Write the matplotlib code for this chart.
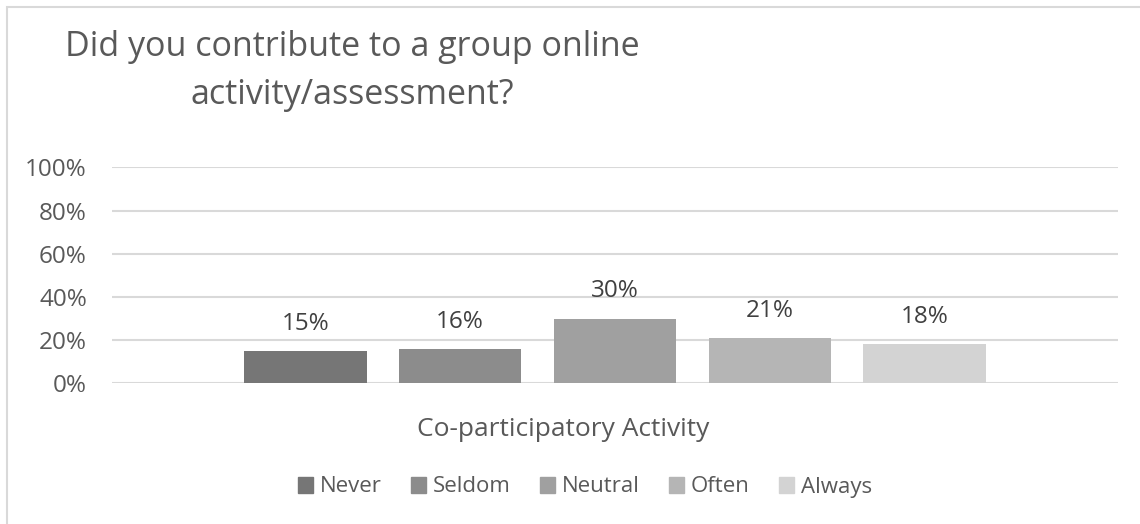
import matplotlib.pyplot as plt
from matplotlib.patches import Rectangle

# chart data
title = "Did you contribute to a group online\nactivity/assessment?"
category = "Co-participatory Activity"
series = ["Never", "Seldom", "Neutral", "Often", "Always"]
values = [0.15, 0.16, 0.30, 0.21, 0.18]
colors = ["#767676", "#8c8c8c", "#a0a0a0", "#b5b5b5", "#d3d3d3"]
y_ticks = [0, 0.2, 0.4, 0.6, 0.8, 1.0]

plt.rcParams['font.family'] = ['Open Sans', 'DejaVu Sans']
text_col = "#595959"

fig = plt.figure(figsize=(11.4, 5.24), dpi=100)
W, H = 1140, 524

# chart frame (left and top edges visible)
fig.patches.append(Rectangle((7 / W, -0.1), 1.2, 1.1 - 7 / H, transform=fig.transFigure,
                             fill=False, edgecolor="#d9d9d9", linewidth=1.5))

ax = fig.add_axes([112 / W, 1 - 383.3 / H, (1118 - 112) / W, (383.3 - 167.3) / H])

x = list(range(len(series)))
bars = ax.bar(x, values, width=0.79, color=colors, zorder=3)
for b, v in zip(bars, values):
    ax.annotate(f"{v:.0%}", (b.get_x() + b.get_width() / 2, v), xytext=(0, 19.5),
                textcoords="offset points", ha="center", va="center",
                fontsize=17.5, color="#404040")

ax.set_xlim(-1.25, 5.25)
ax.set_ylim(0, 1.0)
ax.set_yticks(y_ticks)
ax.set_yticklabels([f"{t:.0%}" for t in y_ticks], fontsize=17.5, color=text_col)
ax.set_xticks([])
ax.tick_params(axis="y", length=0, pad=18)
ax.grid(axis="y", color="#d9d9d9", linewidth=1.5, zorder=0)
for s in ax.spines.values():
    s.set_visible(False)

fig.text(352 / W, 1 - 71 / H, title, ha="center", va="center", fontsize=24.5,
         color=text_col, linespacing=1.5)
fig.text(563 / W, 1 - 429 / H, category, ha="center", va="center", fontsize=19,
         color=text_col)

handles = [Rectangle((0, 0), 1, 1, color=c) for c in colors]
fig.legend(handles, series, loc="center", bbox_to_anchor=(585 / W, 1 - 487 / H),
           ncol=5, frameon=False, fontsize=16, labelcolor=text_col,
           handlelength=0.7, handleheight=0.7, handletextpad=0.3, columnspacing=1.3)

fig.savefig("out.png", dpi=100, facecolor="white")
